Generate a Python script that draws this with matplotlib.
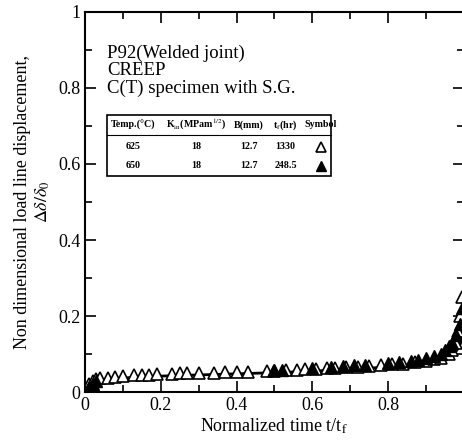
import numpy as np
import matplotlib.pyplot as plt
from matplotlib.patches import Rectangle
from matplotlib.ticker import MultipleLocator

plt.rcParams['font.family'] = 'Liberation Serif'
plt.rcParams['mathtext.fontset'] = 'stix'

# Datos
# 625 C (triangulo vacio)
x_625 = [0.005, 0.01, 0.02, 0.03, 0.04, 0.06, 0.08, 0.10, 0.13, 0.15, 0.17, 0.19,
         0.23, 0.25, 0.27, 0.30, 0.34, 0.37, 0.40, 0.43, 0.48, 0.50, 0.53, 0.56,
         0.58, 0.61, 0.64, 0.66, 0.69, 0.72, 0.75, 0.78, 0.81, 0.84, 0.87, 0.90,
         0.92, 0.94, 0.96, 0.97, 0.98, 0.985, 0.99, 0.995]
y_625 = [0.010, 0.020, 0.030, 0.035, 0.036, 0.038, 0.040, 0.042, 0.045, 0.046, 0.046, 0.047,
         0.048, 0.049, 0.049, 0.050, 0.051, 0.052, 0.052, 0.053, 0.055, 0.056, 0.057, 0.058,
         0.060, 0.061, 0.062, 0.064, 0.066, 0.067, 0.069, 0.071, 0.073, 0.075, 0.078, 0.082,
         0.086, 0.090, 0.100, 0.110, 0.130, 0.160, 0.200, 0.250]

# 650 C (triangulo lleno)
x_650 = [0.01, 0.02, 0.03, 0.50, 0.52, 0.60, 0.65, 0.68, 0.71, 0.74, 0.80, 0.83,
         0.86, 0.88, 0.90, 0.92, 0.94, 0.95, 0.96, 0.97, 0.98, 0.99, 0.995]
y_650 = [0.012, 0.020, 0.030, 0.058, 0.059, 0.063, 0.066, 0.069, 0.070, 0.072, 0.077, 0.079,
         0.082, 0.085, 0.090, 0.095, 0.100, 0.110, 0.120, 0.130, 0.150, 0.180, 0.220]

# Curva ajustada
x_fit = [0, 0.01, 0.03, 0.06, 0.1, 0.2, 0.3, 0.4, 0.5, 0.6, 0.7, 0.8, 0.85, 0.9,
         0.93, 0.95, 0.97, 0.98, 0.99, 1.0]
y_fit = [0, 0.018, 0.028, 0.033, 0.037, 0.042, 0.045, 0.048, 0.051, 0.055, 0.060, 0.066,
         0.070, 0.076, 0.082, 0.088, 0.098, 0.108, 0.125, 0.160]

# Tabla
col_heads = ['Temp.(\u00b0C)', r'K$_{\rm in}$(MPam$^{1/2}$)', 'B(mm)', r't$_{\rm f}$(hr)', 'Symbol']
row_625 = ['625', '18', '12.7', '1330']
row_650 = ['650', '18', '12.7', '248.5']

fig = plt.figure(figsize=(4.62, 4.43), dpi=100)
ax = fig.add_axes([0.184, 0.115, 0.820, 0.858])

ax.plot(x_fit, y_fit, color='k', lw=2)
ax.plot(x_625, y_625, '^', ms=8, mfc='white', mec='k', mew=1.2)
ax.plot(x_650, y_650, '^', ms=8, mfc='k', mec='k')

ax.set_xlim(0, 1)
ax.set_ylim(0, 1)
ax.xaxis.set_minor_locator(MultipleLocator(0.1))
ax.yaxis.set_minor_locator(MultipleLocator(0.1))
ax.set_xticks([0, 0.2, 0.4, 0.6, 0.8])
ax.set_xticklabels(['0', '0.2', '0.4', '0.6', '0.8'])
ax.set_yticks([0, 0.2, 0.4, 0.6, 0.8, 1.0])
ax.set_yticklabels(['0', '0.2', '0.4', '0.6', '0.8', '1'])
ax.tick_params(which='both', direction='in', top=True, right=True, labelsize=13, width=1.2)
ax.tick_params(which='major', length=8)
ax.tick_params(which='minor', length=5)
for s in ax.spines.values():
    s.set_linewidth(1.5)

ax.set_xlabel(r'Normalized time t/t$_{\rm f}$', fontsize=13, labelpad=2)
ax.set_ylabel('Non dimensional load line displacement,\n' + r'$\Delta\delta/\delta_0$',
              fontsize=13, labelpad=4)

ax.text(0.058, 0.892, 'P92(Welded joint)', transform=ax.transAxes, fontsize=13.5, va='center')
ax.text(0.058, 0.847, 'CREEP', transform=ax.transAxes, fontsize=13.5, va='center')
ax.text(0.058, 0.800, 'C(T) specimen with S.G.', transform=ax.transAxes, fontsize=13.5, va='center')

# Dibujar la tabla
ax.add_patch(Rectangle((0.058, 0.568), 0.591, 0.161, transform=ax.transAxes,
                       fill=False, lw=1.2, ec='k'))
ax.plot([0.058, 0.649], [0.676, 0.676], transform=ax.transAxes, color='k', lw=0.8)
col_x = [0.126, 0.293, 0.432, 0.529, 0.623]
for cx, h in zip(col_x, col_heads):
    ax.text(cx, 0.703, h, transform=ax.transAxes, fontsize=7.2, fontweight='bold',
            ha='center', va='center')
for cx, v in zip(col_x, row_625):
    ax.text(cx, 0.645, v, transform=ax.transAxes, fontsize=7.2, fontweight='bold',
            ha='center', va='center')
for cx, v in zip(col_x, row_650):
    ax.text(cx, 0.595, v, transform=ax.transAxes, fontsize=7.2, fontweight='bold',
            ha='center', va='center')
ax.plot([col_x[4]], [0.645], '^', transform=ax.transAxes, ms=7, mfc='white', mec='k', mew=1.2)
ax.plot([col_x[4]], [0.595], '^', transform=ax.transAxes, ms=7, mfc='k', mec='k')

fig.savefig('out.png', dpi=100)
